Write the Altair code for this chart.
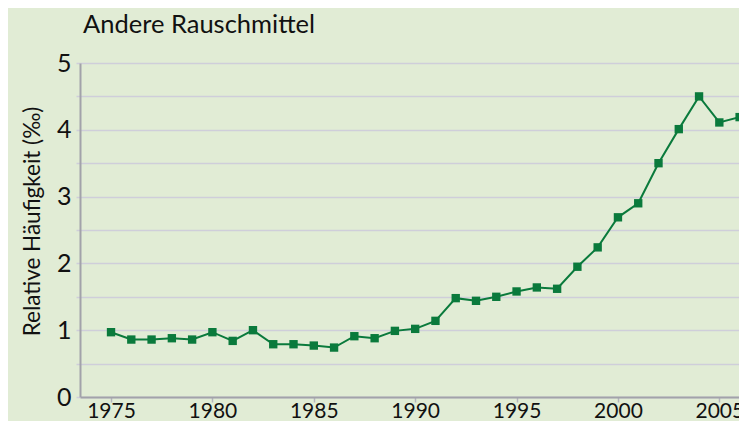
import altair as alt
import pandas as pd

years = list(range(1975, 2007))
values = [0.97, 0.86, 0.86, 0.88, 0.86, 0.97, 0.84, 1.00, 0.79, 0.79, 0.77, 0.74,
          0.91, 0.88, 0.99, 1.02, 1.14, 1.48, 1.44, 1.50, 1.58, 1.64, 1.62, 1.95,
          2.24, 2.69, 2.90, 3.50, 4.01, 4.50, 4.11, 4.19]
x_ticks = [1975, 1980, 1985, 1990, 1995, 2000, 2005]
y_ticks = [0, 0.5, 1, 1.5, 2, 2.5, 3, 3.5, 4, 4.5, 5]
title_text = "Andere Rauschmittel"
y_title = "Relative Häufigkeit (‰)"

df = pd.DataFrame({"Jahr": years, "Wert": values})
df_title = pd.DataFrame({"t": [title_text]})

FONT = "Lato"
BG = "#E1ECD5"
GREEN = "#0A7A3C"

x = alt.X("Jahr:Q",
          scale=alt.Scale(domain=[1973.47, 2005.97], nice=False, zero=False),
          axis=alt.Axis(values=x_ticks, format="d", title=None, grid=False,
                        tickSize=5, tickColor="#B4B4BC", tickWidth=1.5,
                        domainColor="#A2A2AA", domainWidth=2,
                        labelFontSize=21, labelFont=FONT, labelColor="#111111",
                        labelPadding=-2, labelFlush=False))
y = alt.Y("Wert:Q",
          scale=alt.Scale(domain=[0, 5], nice=False),
          axis=alt.Axis(values=y_ticks,
                        labelExpr="datum.value % 1 == 0 ? format(datum.value, 'd') : ''",
                        title=y_title,
                        titleFont=FONT, titleFontSize=22.5, titleFontWeight="normal",
                        titleColor="#111111", titleX=-48, titleY=158,
                        titleAlign="center", titleBaseline="middle", titleAngle=-90,
                        grid=True, gridColor="#CFCEDA", gridWidth=1.5,
                        tickSize=4, tickColor="#CFCEDA", tickWidth=1.5,
                        domainColor="#A2A2AA", domainWidth=2,
                        labelFontSize=25, labelFont=FONT, labelColor="#111111",
                        labelPadding=5, labelFlush=False))

line = alt.Chart(df).mark_line(color=GREEN, strokeWidth=2, clip=False).encode(x=x, y=y)
pts = alt.Chart(df).mark_point(shape="square", filled=True, color=GREEN, size=70,
                               opacity=1, clip=False).encode(x=x, y=y)
title = alt.Chart(df_title).mark_text(align="left", baseline="alphabetic", font=FONT,
                                      fontSize=25.5, color="#111111", clip=False).encode(
    x=alt.value(3), y=alt.value(-30), text="t:N")

chart = (line + pts + title).properties(
    width=659, height=334,
    autosize=alt.AutoSizeParams(type="none"),
    padding={"left": 72, "top": 55, "right": 0, "bottom": 24},
).configure(background=BG).configure_view(stroke=None, fill=BG)

chart.save("out.html", embed_options={"renderer": "svg", "actions": False})
